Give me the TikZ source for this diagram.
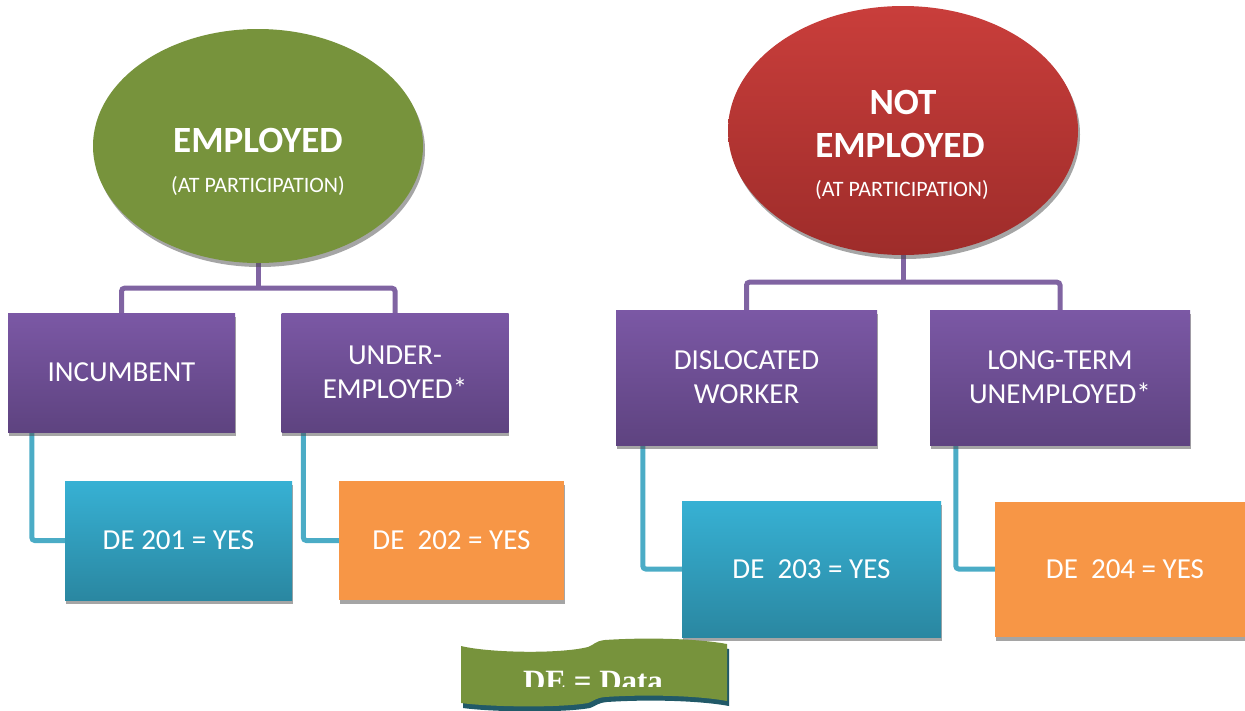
\documentclass[tikz,border=0pt]{standalone}
\usepackage{fontspec}
\setmainfont{Carlito}
\newfontfamily\bannerfont{Liberation Serif}
\usetikzlibrary{shapes.geometric,shadows,backgrounds}
\definecolor{empgreen}{HTML}{77933C}
\definecolor{redtop}{HTML}{C93E3B}
\definecolor{redbot}{HTML}{9E2C2A}
\definecolor{purtop}{HTML}{7B58A5}
\definecolor{purbot}{HTML}{5E4380}
\definecolor{purline}{HTML}{8064A2}
\definecolor{bluetop}{HTML}{37B1D4}
\definecolor{bluebot}{HTML}{2A87A1}
\definecolor{tealline}{HTML}{4BACC6}
\definecolor{deorange}{HTML}{F79646}
\definecolor{bannershadow}{HTML}{215968}
\tikzset{
  status/.style={ellipse,inner sep=0pt,drop shadow={shadow xshift=2pt,shadow yshift=-4pt,fill=black!70,opacity=0.5}},
  title/.style={anchor=base,inner sep=0pt,text=white,font=\fontsize{37}{44}\selectfont\bfseries},
  subtitle/.style={anchor=base,inner sep=0pt,text=white,font=\fontsize{22}{26}\selectfont},
  category/.style={rectangle,inner sep=0pt,minimum width=227pt,minimum height=119pt,top color=purtop,bottom color=purbot,
    text=white,align=center,font=\fontsize{29}{34}\selectfont,drop shadow={shadow xshift=0.5pt,shadow yshift=-4pt,fill=black!70,opacity=0.5}},
  answer/.style={rectangle,inner sep=0pt,minimum width=227pt,minimum height=119pt,
    text=white,font=\fontsize{29}{34}\selectfont,drop shadow={shadow xshift=0.5pt,shadow yshift=-4pt,fill=black!70,opacity=0.5}},
  tree/.style={line width=5pt,purline,rounded corners=3pt},
  leg/.style={line width=5pt,tealline,rounded corners=3pt}
}
\begin{document}
\begin{tikzpicture}[x=1pt,y=-1pt]
  \useasboundingbox (0,0) rectangle (1245,710);
  % status at participation
  \node[status,fill=empgreen,minimum width=330pt,minimum height=234pt] (emp) at (258,146) {};
  \node[status,top color=redtop,bottom color=redbot,minimum width=350pt,minimum height=249pt] (nemp) at (903,130.5) {};
  \node[title] (emptitle) at (258,152) {EMPLOYED};
  \node[subtitle] (empsub) at (258,192) {(AT PARTICIPATION)};
  \node[title] (nemptop) at (903,114) {NOT};
  \node[title] (nemptitle) at (900,157) {EMPLOYED};
  \node[subtitle] (nempsub) at (902,196) {(AT PARTICIPATION)};
  % categories
  \node[category] (inc) at (121.5,372.5) {INCUMBENT};
  \node[category] (under) at (395,372.5) {UNDER-\\EMPLOYED*};
  \node[category,minimum width=261pt,minimum height=135pt] (disl) at (746.5,377.5) {DISLOCATED\\WORKER};
  \node[category,minimum width=260pt,minimum height=135pt] (lterm) at (1060,377.5) {LONG-TERM\\UNEMPLOYED*};
  % data elements
  \node[answer,top color=bluetop,bottom color=bluebot] (de201) at (178.5,540.5) {DE 201 = YES};
  \node[answer,fill=deorange,minimum width=225pt] (de202) at (451.5,540.5) {DE\ \ 202 = YES};
  \node[answer,top color=bluetop,bottom color=bluebot,minimum width=259pt,minimum height=136pt] (de203) at (811.5,569) {DE\ \ 203 = YES};
  \node[answer,fill=deorange,minimum width=260pt,minimum height=135pt] (de204) at (1125,569) {DE\ \ 204 = YES};
  \begin{scope}[on background layer]
    \draw[tree] (emp.south) -- ++(0,25) coordinate (empfork);
    \draw[tree] (inc.north) |- (empfork) -| (under.north);
    \draw[tree] (nemp.south) -- ++(0,27) coordinate (nempfork);
    \draw[tree] (disl.north) |- (nempfork) -| (lterm.north);
    \draw[leg] ([xshift=24pt]inc.south west) |- (de201.west);
    \draw[leg] ([xshift=22pt]under.south west) |- (de202.west);
    \draw[leg] ([xshift=27pt]disl.south west) |- (de203.west);
    \draw[leg] ([xshift=26pt]lterm.south west) |- (de204.west);
  \end{scope}
  % legend banner
  \fill[bannershadow,shift={(2,5)}] (461,646) .. controls (490,653) and (560,654) .. (588,647)
    .. controls (594,645) and (595,641) .. (605,640) .. controls (650,637) and (700,639) .. (727,644)
    -- (727,701) .. controls (700,696) and (650,694) .. (605,697) .. controls (595,698) and (594,701) .. (588,703)
    .. controls (560,708) and (490,707) .. (461,703) -- cycle;
  \fill[empgreen] (461,646) .. controls (490,653) and (560,654) .. (588,647)
    .. controls (594,645) and (595,641) .. (605,640) .. controls (650,637) and (700,639) .. (727,644)
    -- (727,701) .. controls (700,696) and (650,694) .. (605,697) .. controls (595,698) and (594,701) .. (588,703)
    .. controls (560,708) and (490,707) .. (461,703) -- cycle;
  \begin{scope}
    \clip (461,640) rectangle (728,686);
    \node[anchor=base,inner sep=0pt,text=white,font=\bannerfont\bfseries\fontsize{31}{36}\selectfont] (legend) at (593,691) {DE = Data};
  \end{scope}
\end{tikzpicture}
\end{document}
